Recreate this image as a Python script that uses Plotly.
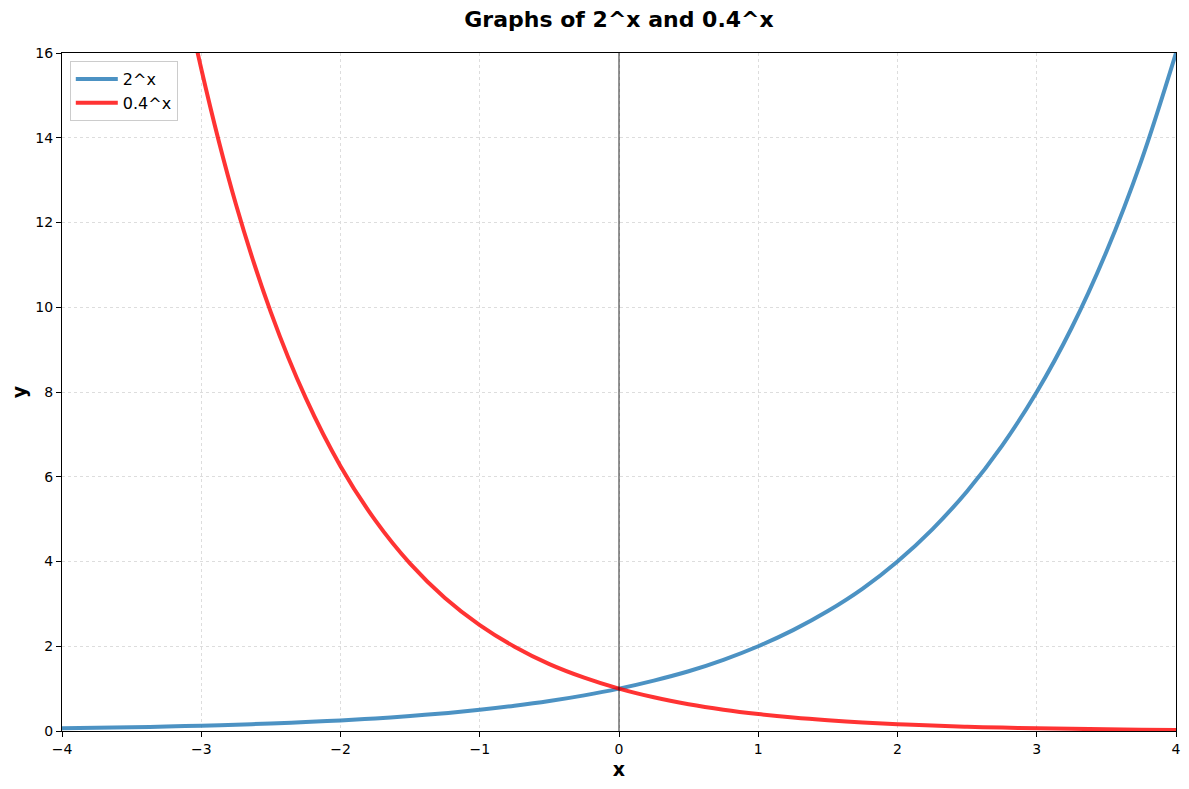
import plotly.graph_objects as go

# x-positions and values
x_vals = [-4, -3.75, -3.5, -3.25, -3, -2.75, -2.5, -2.25, -2, -1.75, -1.5, -1.25, -1,
          -0.75, -0.5, -0.25, 0, 0.25, 0.5, 0.75, 1, 1.25, 1.5, 1.75, 2, 2.25, 2.5,
          2.75, 3, 3.25, 3.5, 3.75, 4]

y_two = [0.0625, 0.074, 0.088, 0.105, 0.125, 0.149, 0.177, 0.21, 0.25, 0.297, 0.354,
         0.42, 0.5, 0.595, 0.707, 0.841, 1.0, 1.19, 1.41, 1.68, 2.0, 2.38, 2.83, 3.36,
         4.0, 4.76, 5.66, 6.73, 8.0, 9.51, 11.31, 13.45, 16.0]

y_point4 = [39.06, 31.06, 24.7, 19.64, 15.63, 12.42, 9.88, 7.86, 6.25, 4.97, 3.95,
            3.14, 2.5, 1.99, 1.58, 1.26, 1.0, 0.795, 0.632, 0.503, 0.4, 0.318, 0.253,
            0.201, 0.16, 0.127, 0.101, 0.08, 0.064, 0.051, 0.041, 0.032, 0.026]

x_ticks = [-4, -3, -2, -1, 0, 1, 2, 3, 4]
y_ticks = [0, 2, 4, 6, 8, 10, 12, 14, 16]

fig = go.Figure()

fig.add_trace(go.Scatter(x=x_vals, y=y_two, mode='lines', name='2^x',
                         line=dict(color='rgba(31,119,180,0.8)', width=4, shape='spline')))
fig.add_trace(go.Scatter(x=x_vals, y=y_point4, mode='lines', name='0.4^x',
                         line=dict(color='rgba(255,0,0,0.8)', width=4, shape='spline')))

# vertical line at x = 0
fig.add_shape(type='line', x0=0, x1=0, y0=0, y1=1, xref='x', yref='paper',
              line=dict(color='rgba(0,0,0,0.7)', width=1.2), layer='above')

axis_common = dict(showline=True, linecolor='black', linewidth=1, mirror=True,
                   ticks='outside', ticklen=5, tickwidth=1, tickcolor='black',
                   showgrid=True, gridcolor='#dddddd', griddash='3px,3px', gridwidth=1,
                   zeroline=False, automargin=False, tickfont=dict(size=14, color='black'))

fig.update_xaxes(range=[-4, 4], tickvals=x_ticks, **axis_common,
                 title=dict(text='<b>x</b>', font=dict(size=19, color='black'), standoff=6))
fig.update_yaxes(range=[0, 16], tickvals=y_ticks, **axis_common,
                 title=dict(text='<b>y</b>', font=dict(size=19, color='black'), standoff=12))

# page has an 8px body margin, so the figure is sized to fit after it
fig.update_layout(
    width=1181, height=781,
    title=dict(text='<b>Graphs of 2^x and 0.4^x</b>', x=0.5, xref='paper', xanchor='center',
               y=0.986, yanchor='middle', font=dict(size=22, color='black')),
    font=dict(family='DejaVu Sans', color='black'),
    plot_bgcolor='white', paper_bgcolor='white',
    margin=dict(l=54, r=13, t=45, b=58),
    showlegend=True,
    legend=dict(x=0.007, y=0.988, xanchor='left', yanchor='top', itemwidth=42,
                bgcolor='rgba(255,255,255,0.8)', bordercolor='#cccccc', borderwidth=1,
                font=dict(size=16, color='black')),
)

fig.write_html("out.html")
